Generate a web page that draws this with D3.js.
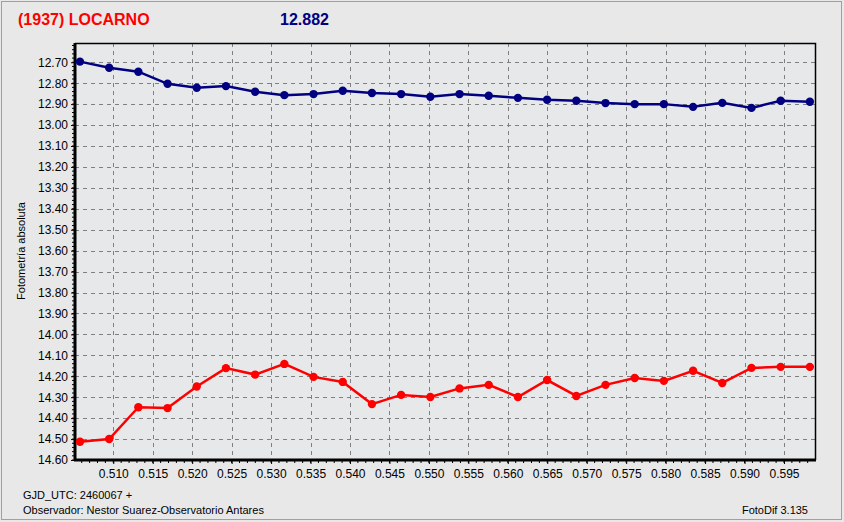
<!DOCTYPE html>
<html><head><meta charset="utf-8">
<script src="https://cdn.jsdelivr.net/npm/d3@7"></script>
<style>
html,body{margin:0;padding:0;background:#e8e8e8;}
svg{display:block;font-family:"Liberation Sans",Arial,sans-serif;}
</style></head>
<body><svg id="c" width="844" height="522"></svg>
<script>
// ---- data ----
const times = [0.50578,0.50948,0.51318,0.51688,0.52058,0.52428,0.52798,0.53168,0.53538,0.53908,
  0.54278,0.54648,0.55018,0.55388,0.55758,0.56128,0.56498,0.56868,0.57238,0.57608,
  0.57978,0.58348,0.58718,0.59088,0.59458,0.59828];
const blueSeries = [12.697,12.726,12.745,12.803,12.822,12.814,12.841,12.857,12.852,12.836,
  12.847,12.852,12.865,12.852,12.860,12.870,12.879,12.884,12.895,12.900,
  12.900,12.913,12.894,12.918,12.884,12.889];
const redSeries = [14.513,14.500,14.348,14.352,14.249,14.161,14.192,14.141,14.203,14.227,
  14.333,14.289,14.299,14.258,14.241,14.299,14.218,14.294,14.241,14.208,
  14.222,14.174,14.232,14.160,14.155,14.155];
const xTicks = [0.510,0.515,0.520,0.525,0.530,0.535,0.540,0.545,0.550,0.555,0.560,0.565,0.570,0.575,0.580,0.585,0.590,0.595];
const yTicks = [12.70,12.80,12.90,13.00,13.10,13.20,13.30,13.40,13.50,13.60,13.70,13.80,13.90,14.00,14.10,14.20,14.30,14.40,14.50,14.60];
const titleText = "(1937) LOCARNO";
const valueText = "12.882";
const yLabel = "Fotometría absoluta";
const footer1 = "GJD_UTC: 2460067 +";
const footer2 = "Observador: Nestor Suarez-Observatorio Antares";
const footer3 = "FotoDif 3.135";

// ---- layout ----
const svg = d3.select("#c");
const L = 75, R = 815, T = 43, B = 460;
const x = d3.scaleLinear().domain([0.50515, 0.59893]).range([L, R]);
const y = d3.scaleLinear().domain([12.608, 14.60]).range([T, B]);

// outer border
svg.append("rect").attr("x",1.5).attr("y",1.5).attr("width",840).attr("height",518)
  .attr("fill","#e8e8e8").attr("stroke","#a0a0a0").attr("stroke-width",1);

// plot bg
svg.append("rect").attr("x",L).attr("y",T).attr("width",R-L).attr("height",B-T).attr("fill","#e7e8ea");

// grid
const g = svg.append("g");
g.selectAll(".vg").data(xTicks).join("line")
  .attr("x1",d=>Math.round(x(d))+0.5).attr("x2",d=>Math.round(x(d))+0.5)
  .attr("y1",T).attr("y2",B).attr("stroke","#808080").attr("stroke-dasharray","4,4");
g.selectAll(".hg").data(yTicks).join("line")
  .attr("y1",d=>Math.round(y(d))+0.5).attr("y2",d=>Math.round(y(d))+0.5)
  .attr("x1",L).attr("x2",R).attr("stroke","#808080").attr("stroke-dasharray","4,4");

// box top/right
svg.append("path").attr("d",`M${L},${T+0.5}H${R+0.5}V${B}`).attr("fill","none").attr("stroke","#000").attr("stroke-width",1.5);

// axes
const xMinor = d3.range(0.506, 0.5990, 0.001);
const xAxis = d3.axisBottom(x).tickValues(xTicks).tickFormat(d3.format(".3f")).tickSize(4).tickPadding(5);
const xa = svg.append("g").attr("transform",`translate(0,${B})`).call(xAxis);
xa.select(".domain").attr("stroke","#000").attr("stroke-width",3).attr("d",`M${L-1},0H${R+1}`);
xa.selectAll("text").attr("font-size",12).attr("fill","#000");
xa.selectAll(".tick line").attr("stroke","#000");
svg.append("g").attr("transform",`translate(0,${B})`).selectAll("line").data(xMinor).join("line")
  .attr("x1",d=>x(d)).attr("x2",d=>x(d)).attr("y1",0).attr("y2",3).attr("stroke","#000");

const yAxis = d3.axisLeft(y).tickValues(yTicks).tickFormat(d3.format(".2f")).tickSize(4).tickPadding(3);
const ya = svg.append("g").attr("transform",`translate(${L},0)`).call(yAxis);
ya.select(".domain").attr("stroke","#000").attr("stroke-width",3).attr("d",`M0,${T}V${B+1}`);
ya.selectAll("text").attr("font-size",12).attr("fill","#000");
ya.selectAll(".tick line").attr("stroke","#000");
const yMinor = d3.range(12.62, 14.601, 0.02);
svg.append("g").attr("transform",`translate(${L},0)`).selectAll("line").data(yMinor).join("line")
  .attr("y1",d=>y(d)).attr("y2",d=>y(d)).attr("x1",-3).attr("x2",0).attr("stroke","#000");

// series
function drawSeries(vals, color){
  const pts = times.map((t,i)=>[t, vals[i]]);
  svg.append("path").datum(pts)
    .attr("d", d3.line().x(d=>x(d[0])).y(d=>y(d[1])))
    .attr("fill","none").attr("stroke",color).attr("stroke-width",2.5);
  svg.append("g").selectAll("circle").data(pts).join("circle")
    .attr("cx",d=>x(d[0])).attr("cy",d=>y(d[1])).attr("r",4.2).attr("fill",color);
}
drawSeries(blueSeries, "#000080");
drawSeries(redSeries, "#ff0000");

// titles
svg.append("text").attr("x",18).attr("y",25).attr("font-size",16).attr("font-weight","bold")
  .attr("fill","#ff0000").text(titleText);
svg.append("text").attr("x",280).attr("y",25).attr("font-size",16).attr("font-weight","bold")
  .attr("fill","#000080").text(valueText);

svg.append("text").attr("transform","translate(25,251) rotate(-90)").attr("text-anchor","middle")
  .attr("font-size",11).attr("fill","#000").text(yLabel);

svg.append("text").attr("x",23).attr("y",499).attr("font-size",11).attr("fill","#000").text(footer1);
svg.append("text").attr("x",23).attr("y",514).attr("font-size",11).attr("fill","#000").text(footer2);
svg.append("text").attr("x",808).attr("y",514).attr("text-anchor","end").attr("font-size",11).attr("fill","#000").text(footer3);
</script></body></html>
